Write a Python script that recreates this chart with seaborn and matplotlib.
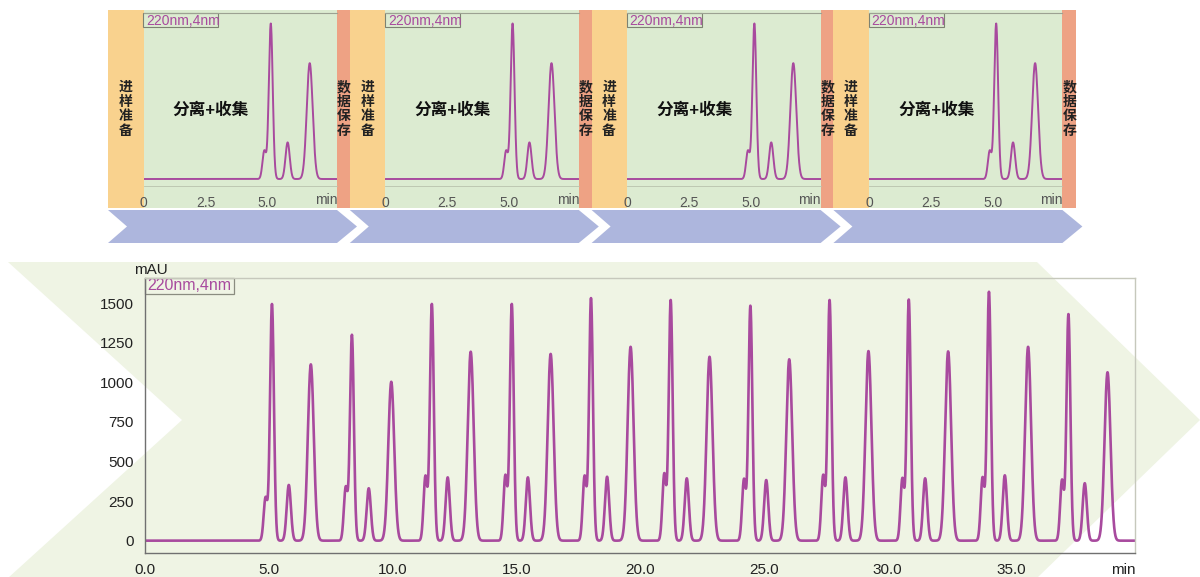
import numpy as np
import pandas as pd
import matplotlib
matplotlib.use("Agg")
import matplotlib.pyplot as plt
from matplotlib.patches import Polygon, Rectangle
from matplotlib.ticker import FixedLocator, MultipleLocator
import seaborn as sns

# ---- peak table: one row per injection cycle (retention time in min, apex in mAU) ----
shoulder_t = [4.87, 8.11, 11.33, 14.56, 17.76, 20.98, 24.20, 27.40, 30.60, 33.84, 37.05]
shoulder_h = [270, 335, 405, 410, 405, 420, 385, 410, 390, 395, 380]
main_t = [5.13, 8.36, 11.59, 14.82, 18.02, 21.24, 24.46, 27.66, 30.86, 34.10, 37.31]
main_h = [1495, 1300, 1495, 1495, 1532, 1520, 1484, 1520, 1523, 1572, 1431]
minor_t = [5.81, 9.04, 12.23, 15.47, 18.67, 21.89, 25.10, 28.30, 31.52, 34.74, 37.97]
minor_h = [352, 331, 400, 400, 404, 394, 383, 400, 394, 413, 363]
late_t = [6.70, 9.95, 13.16, 16.39, 19.62, 22.81, 26.03, 29.23, 32.45, 35.68, 38.89]
late_h = [1114, 1004, 1194, 1180, 1225, 1162, 1146, 1198, 1196, 1225, 1064]
# peak widths (Gaussian sigma, min) per peak type
shoulder_w, main_w, minor_w, late_w = 0.075, 0.079, 0.085, 0.12

# ---- axis labels and annotations ----
x_ticks = [0, 5, 10, 15, 20, 25, 30, 35]
x_tick_labels = ["0.0", "5.0", "10.0", "15.0", "20.0", "25.0", "30.0", "35.0"]
y_ticks = [0, 250, 500, 750, 1000, 1250, 1500]
y_tick_labels = ["0", "250", "500", "750", "1000", "1250", "1500"]
top_x_ticks = [0, 2.5, 5.0, 7.5]
top_x_tick_labels = ["0", "2.5", "5.0", ""]
channel_label = "220nm,4nm"
y_unit = "mAU"
x_unit = "min"
stage_prep = "进样准备"
stage_run = "分离+收集"
stage_save = "数据保存"

PURPLE = "#a84a9e"
W, H = 1200, 577

sns.set_style("white")
plt.rcParams["font.family"] = ["Liberation Sans", "Noto Sans CJK SC"]


def chromatogram(t, n_cycles=None):
    """Sum of Gaussian peaks from the peak table."""
    groups = [(shoulder_t, shoulder_h, shoulder_w), (main_t, main_h, main_w),
              (minor_t, minor_h, minor_w), (late_t, late_h, late_w)]
    y = np.zeros_like(t)
    for times, heights, w in groups:
        for tc, hc in list(zip(times, heights))[:n_cycles]:
            y += hc * np.exp(-0.5 * ((t - tc) / w) ** 2)
    return y


def px_box(x0, y0, x1, y1):
    return [x0 / W, 1 - y1 / H, (x1 - x0) / W, (y1 - y0) / H]


fig = plt.figure(figsize=(W / 100, H / 100), dpi=100)
fig.patch.set_facecolor("white")

# background layer in pixel coordinates
bg = fig.add_axes([0, 0, 1, 1], zorder=0)
bg.set_xlim(0, W)
bg.set_ylim(H, 0)
bg.axis("off")

# large pale-green process arrow behind the full run
bg.add_patch(Polygon([(8, 262), (1037, 262), (1200, 420), (1037, 578), (8, 578), (182, 420)],
                     closed=True, fc="#eff4e4", ec="none", zorder=0))

# ---- four single-injection panels on top ----
pitch = 241.8
for k in range(4):
    ox = pitch * k
    bg.add_patch(Rectangle((108 + ox, 10), 35.5, 198, fc="#f9d28e", ec="none", zorder=1))
    bg.add_patch(Rectangle((143.5 + ox, 10), 193.5, 198, fc="#dcebd1", ec="none", zorder=1))
    bg.add_patch(Rectangle((337 + ox, 10), 14, 198, fc="#eea284", ec="none", zorder=1))
    x0 = 108 + ox
    bg.add_patch(Polygon([(x0, 210), (x0 + 229, 210), (x0 + 249, 226.5), (x0 + 229, 243),
                          (x0, 243), (x0 + 19, 226.5)], closed=True, fc="#adb6dd",
                         ec="none", zorder=1))
    bg.text(125.5 + ox, 109, "\n".join(stage_prep), ha="center", va="center",
            fontsize=10, fontweight="bold", linespacing=1.05, color="#222222", zorder=3)
    bg.text(344 + ox, 109, "\n".join(stage_save), ha="center", va="center",
            fontsize=10, fontweight="bold", linespacing=1.05, color="#222222", zorder=3)
    bg.text(211 + ox, 110, stage_run, ha="center", va="center", fontsize=12,
            fontweight="bold", color="#111111", zorder=3)
    bg.add_patch(Rectangle((143.3 + ox, 13.3), 75, 14, fc="none", ec="#7d8272",
                           lw=0.8, zorder=3))
    bg.text(146 + ox, 20.6, channel_label, ha="left", va="center", fontsize=10,
            color=PURPLE, zorder=3)
    bg.text(326 + ox, 200.5, x_unit, ha="center", va="center", fontsize=10,
            color="#555555", zorder=3)

    tax = fig.add_axes(px_box(143.5 + ox, 13.3, 337 + ox, 186.5), zorder=2)
    tax.patch.set_alpha(0)
    tt = np.linspace(0, 7.8, 1600)
    sns.lineplot(x=tt, y=chromatogram(tt, n_cycles=1), ax=tax, color=PURPLE,
                 linewidth=1.4, estimator=None, sort=False)
    tax.set_xlim(0, 7.8)
    tax.set_ylim(-72, 1593)
    tax.set_xlabel("")
    tax.set_ylabel("")
    tax.xaxis.set_major_locator(FixedLocator(top_x_ticks))
    tax.set_xticklabels(top_x_tick_labels)
    tax.xaxis.set_minor_locator(MultipleLocator(0.5))
    tax.set_yticks([])
    tax.tick_params(axis="x", which="major", direction="out", length=5.5, width=0.8,
                    color="#666666", labelsize=10, labelcolor="#555555", pad=1)
    tax.tick_params(axis="x", which="minor", direction="out", length=3, width=0.7,
                    color="#666666")
    for side in ("left", "right"):
        tax.spines[side].set_visible(False)
    tax.spines["top"].set_color("#9ca192")
    tax.spines["top"].set_linewidth(0.8)
    tax.spines["bottom"].set_color("#b9c2ad")
    tax.spines["bottom"].set_linewidth(0.6)

# ---- continuous multi-injection run ----
ax = fig.add_axes(px_box(145, 277.7, 1135, 553), zorder=2)
ax.patch.set_alpha(0)
t = np.linspace(0, 40, 8001)
run = pd.DataFrame({"time": t, "signal": chromatogram(t)})
sns.lineplot(data=run, x="time", y="signal", ax=ax, color=PURPLE, linewidth=1.9,
             estimator=None, sort=False)
ax.set_xlim(0, 40)
ax.set_ylim(-78, 1662)
ax.set_xlabel("")
ax.set_ylabel("")
ax.xaxis.set_major_locator(FixedLocator(x_ticks))
ax.set_xticklabels(x_tick_labels)
ax.xaxis.set_minor_locator(MultipleLocator(1))
ax.yaxis.set_major_locator(FixedLocator(y_ticks))
ax.set_yticklabels(y_tick_labels)
ax.yaxis.set_minor_locator(MultipleLocator(50))
ax.tick_params(axis="y", which="major", direction="out", length=7, width=0.9,
               color="#555555", labelsize=11, labelcolor="#222222", pad=1)
ax.tick_params(axis="y", which="minor", direction="out", length=3.5, width=0.7,
               color="#666666")
ax.tick_params(axis="x", which="major", direction="out", length=4, width=0.9,
               color="#555555", labelsize=11, labelcolor="#222222", pad=3)
ax.tick_params(axis="x", which="minor", direction="out", length=3, width=0.7,
               color="#666666")
for side in ("left", "bottom"):
    ax.spines[side].set_color("#707070")
    ax.spines[side].set_linewidth(1.0)
for side in ("top", "right"):
    ax.spines[side].set_color("#c6c8bc")
    ax.spines[side].set_linewidth(1.0)

bg.text(151, 269.5, y_unit, ha="center", va="center", fontsize=11, color="#222222",
        zorder=3)
bg.text(1136, 570, x_unit, ha="right", va="center", fontsize=11, color="#222222",
        zorder=3)
bg.add_patch(Rectangle((144.5, 277.5), 89, 16, fc="none", ec="#8a8c80", lw=0.9, zorder=3))
bg.text(147, 285.8, channel_label, ha="left", va="center", fontsize=11.5, color=PURPLE,
        zorder=3)

fig.savefig("out.png", dpi=100, facecolor="white")
